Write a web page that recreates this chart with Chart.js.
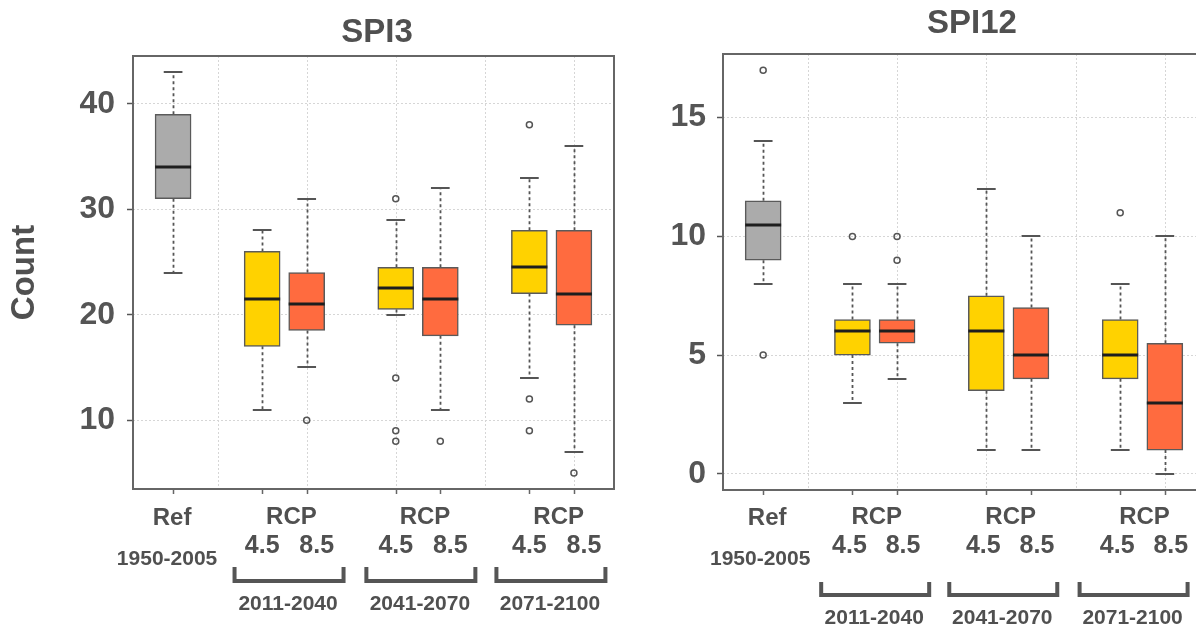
<!DOCTYPE html>
<html>
<head>
<meta charset="utf-8">
<title>SPI3 / SPI12 counts</title>
<script src="https://cdn.jsdelivr.net/npm/chart.js@4.4.1/dist/chart.umd.min.js"></script>
<style>
  html, body { margin: 0; padding: 0; background: #fff; overflow: hidden; }
  .panel { position: absolute; top: 0; height: 626px; }
  #left { left: 0; width: 640px; }
  #right { left: 640px; width: 600px; }
</style>
</head>
<body>
<div class="panel" id="left"><canvas id="spi3"></canvas></div>
<div class="panel" id="right"><canvas id="spi12"></canvas></div>
<script>
// x positions of the boxes: Ref, then RCP 4.5 / 8.5 for each period
const positions = [1, 3, 4, 6, 7, 9, 10];
const gridX = [2, 4, 6, 8, 10];
const refLabel = "Ref";
const refPeriod = "1950-2005";
const scenarioLabel = "RCP";
const scenarios = ["4.5", "8.5"];
const periods = ["2011-2040", "2041-2070", "2071-2100"];

// SPI3
const spi3Min = [24, 11, 15, 20, 11, 14, 7];
const spi3Q1 = [31, 17, 18.5, 20.5, 18, 22, 19];
const spi3Median = [34, 21.5, 21, 22.5, 21.5, 24.5, 22];
const spi3Q3 = [39, 26, 24, 24.5, 24.5, 28, 28];
const spi3Max = [43, 28, 31, 29, 32, 33, 36];
const spi3Outliers = [[], [], [10], [31, 14, 9, 8], [8], [38, 12, 9], [5]];
const spi3Ticks = [10, 20, 30, 40];

// SPI12
const spi12Min = [8, 3, 4, 1, 1, 1, 0];
const spi12Q1 = [9, 5, 5.5, 3.5, 4, 4, 1];
const spi12Median = [10.5, 6, 6, 6, 5, 5, 3];
const spi12Q3 = [11.5, 6.5, 6.5, 7.5, 7, 6.5, 5.5];
const spi12Max = [14, 8, 8, 12, 10, 8, 10];
const spi12Outliers = [[17, 5], [10], [10, 9], [], [], [11], []];
const spi12Ticks = [0, 5, 10, 15];

const boxColors = ["#ababab", "#ffd200", "#ff6b3f", "#ffd200", "#ff6b3f", "#ffd200", "#ff6b3f"];
const ink = "#505050";
const fontFamily = '"Liberation Sans", Arial, sans-serif';

// whiskers, caps, medians, frame and the grouped x labels
function boxParts(stats, lay) {
  return {
    id: "boxParts",
    beforeDatasetsDraw(chart) {
      const { ctx, chartArea: a, scales: { x, y } } = chart;
      const unit = x.getPixelForValue(2) - x.getPixelForValue(1);
      ctx.save();
      ctx.strokeStyle = "#d6d6d6";
      ctx.lineWidth = 1;
      ctx.setLineDash([2, 2]);
      ctx.beginPath();
      gridX.forEach(v => {
        const px = Math.round(x.getPixelForValue(v)) + 0.5;
        ctx.moveTo(px, a.top);
        ctx.lineTo(px, a.bottom);
      });
      ctx.stroke();

      ctx.strokeStyle = "#555";
      ctx.lineWidth = 1.8;
      ctx.setLineDash([3, 3]);
      ctx.beginPath();
      positions.forEach((p, i) => {
        const px = Math.round(x.getPixelForValue(p)) + 0.5;
        ctx.moveTo(px, y.getPixelForValue(stats.q3[i]));
        ctx.lineTo(px, y.getPixelForValue(stats.max[i]));
        ctx.moveTo(px, y.getPixelForValue(stats.q1[i]));
        ctx.lineTo(px, y.getPixelForValue(stats.min[i]));
      });
      ctx.stroke();

      ctx.setLineDash([]);
      ctx.lineWidth = 2;
      ctx.beginPath();
      positions.forEach((p, i) => {
        const px = x.getPixelForValue(p);
        [stats.min[i], stats.max[i]].forEach(v => {
          const py = Math.round(y.getPixelForValue(v));
          ctx.moveTo(px - unit * 0.21, py);
          ctx.lineTo(px + unit * 0.21, py);
        });
      });
      ctx.stroke();
      ctx.restore();
    },
    afterDatasetsDraw(chart) {
      const { ctx, chartArea: a, scales: { x, y } } = chart;
      const bars = chart.getDatasetMeta(1).data;
      ctx.save();
      ctx.strokeStyle = "#1e1e1e";
      ctx.lineWidth = 3;
      bars.forEach((bar, i) => {
        const py = Math.round(y.getPixelForValue(stats.med[i]));
        ctx.beginPath();
        ctx.moveTo(bar.x - bar.width / 2, py);
        ctx.lineTo(bar.x + bar.width / 2, py);
        ctx.stroke();
      });
      // frame
      ctx.strokeStyle = "#666";
      ctx.lineWidth = 2;
      ctx.strokeRect(a.left, a.top, a.right - a.left, a.bottom - a.top);
      // x tick marks under the axis
      ctx.lineWidth = 1.5;
      ctx.beginPath();
      positions.forEach(p => {
        const px = Math.round(x.getPixelForValue(p)) + 0.5;
        ctx.moveTo(px, a.bottom);
        ctx.lineTo(px, a.bottom + 5);
      });
      ctx.stroke();
      ctx.restore();
    },
    afterDraw(chart) {
      const { ctx, scales: { x } } = chart;
      const unit = x.getPixelForValue(2) - x.getPixelForValue(1);
      ctx.save();
      ctx.fillStyle = ink;
      ctx.textAlign = "center";
      ctx.textBaseline = "middle";

      ctx.font = "bold 33px " + fontFamily;
      ctx.fillText(stats.title, lay.titleX, lay.titleY);

      ctx.font = "bold 24px " + fontFamily;
      const xr = x.getPixelForValue(positions[0]);
      ctx.fillText(refLabel, xr + lay.refDx, 518);
      ctx.font = "bold 21px " + fontFamily;
      ctx.fillText(refPeriod, xr + lay.periodDx, 559);

      periods.forEach((period, k) => {
        const x1 = x.getPixelForValue(positions[1 + 2 * k]);
        const x2 = x.getPixelForValue(positions[2 + 2 * k]);
        ctx.font = "bold 24px " + fontFamily;
        ctx.fillText(scenarioLabel, (x1 + x2) / 2 + lay.rcpDx, 517);
        ctx.font = "bold 25px " + fontFamily;
        ctx.fillText(scenarios[0], x1 + lay.lowDx, 546);
        ctx.fillText(scenarios[1], x2 + lay.highDx, 546);

        const bl = x1 + unit * lay.bracketStart[k];
        const br = bl + lay.bracketWidth;
        ctx.strokeStyle = "#555";
        ctx.lineWidth = 4;
        ctx.lineJoin = "miter";
        ctx.beginPath();
        ctx.moveTo(bl, lay.bracketTop);
        ctx.lineTo(bl, lay.bracketBottom);
        ctx.lineTo(br, lay.bracketBottom);
        ctx.lineTo(br, lay.bracketTop);
        ctx.stroke();

        ctx.font = "bold 21px " + fontFamily;
        ctx.fillText(period, (bl + br) / 2 - 1, lay.yearY);
      });
      ctx.restore();
    }
  };
}

function makeChart(id, stats, lay) {
  const boxData = positions.map((p, i) => ({ x: p, y: [stats.q1[i], stats.q3[i]] }));
  const outlierData = positions.flatMap((p, i) => stats.out[i].map(v => ({ x: p, y: v })));

  return new Chart(document.getElementById(id), {
    type: "bar",
    data: {
      datasets: [
        {
          type: "scatter",
          data: outlierData,
          pointStyle: "circle",
          pointRadius: 3,
          pointBackgroundColor: "rgba(0,0,0,0)",
          pointBorderColor: "#555",
          pointBorderWidth: 1.5
        },
        {
          type: "bar",
          data: boxData,
          backgroundColor: boxColors,
          borderColor: "#5a5a5a",
          borderWidth: 1.5,
          borderSkipped: false,
          barThickness: 36
        }
      ]
    },
    options: {
      responsive: true,
      maintainAspectRatio: false,
      animation: false,
      devicePixelRatio: 1,
      layout: { padding: lay.padding },
      plugins: { legend: { display: false }, tooltip: { enabled: false } },
      scales: {
        x: {
          type: "linear",
          offset: false,
          min: 0.1,
          max: 10.9,
          ticks: { display: false },
          grid: { display: false, offset: false },
          border: { display: false },
          afterFit(scale) { scale.height = 0; }
        },
        y: {
          type: "linear",
          position: "left",
          min: stats.yMin,
          max: stats.yMax,
          afterBuildTicks(scale) { scale.ticks = stats.ticks.map(v => ({ value: v })); },
          afterFit(scale) { scale.width = lay.axisWidth; },
          ticks: {
            autoSkip: false,
            padding: lay.tickPad,
            color: "#555",
            font: { family: fontFamily, size: 32, weight: "bold" }
          },
          grid: {
            color: "#d6d6d6",
            lineWidth: 1,
            tickLength: 6,
            tickColor: "#555",
            tickWidth: 1.5
          },
          border: { display: false, dash: [2, 2] },
          title: {
            display: !!stats.yTitle,
            text: stats.yTitle,
            color: ink,
            font: { family: fontFamily, size: 33, weight: "bold" },
            padding: { top: 5, bottom: 0 }
          }
        }
      }
    },
    plugins: [boxParts(stats, lay)]
  });
}

makeChart("spi3", {
  title: "SPI3", yTitle: "Count",
  min: spi3Min, q1: spi3Q1, med: spi3Median, q3: spi3Q3, max: spi3Max, out: spi3Outliers,
  ticks: spi3Ticks, yMin: 3.48, yMax: 44.52
}, {
  padding: { left: 0, top: 56, right: 26, bottom: 137 },
  axisWidth: 133, tickPad: 12,
  titleX: 377, titleY: 33,
  refDx: -1, periodDx: -6, rcpDx: 7, lowDx: 0, highDx: 10,
  bracketStart: [-0.62, -0.66, -0.74], bracketWidth: 109,
  bracketTop: 567, bracketBottom: 581, yearY: 604
});

makeChart("spi12", {
  title: "SPI12", yTitle: "",
  min: spi12Min, q1: spi12Q1, med: spi12Median, q3: spi12Q3, max: spi12Max, out: spi12Outliers,
  ticks: spi12Ticks, yMin: -0.68, yMax: 17.68
}, {
  padding: { left: 0, top: 54, right: 35, bottom: 136 },
  axisWidth: 83, tickPad: 11,
  titleX: 332, titleY: 24,
  refDx: 4, periodDx: -3, rcpDx: 2, lowDx: -3, highDx: 6,
  bracketStart: [-0.70, -0.83, -0.91], bracketWidth: 108,
  bracketTop: 582, bracketBottom: 595, yearY: 618
});
</script>
</body>
</html>
